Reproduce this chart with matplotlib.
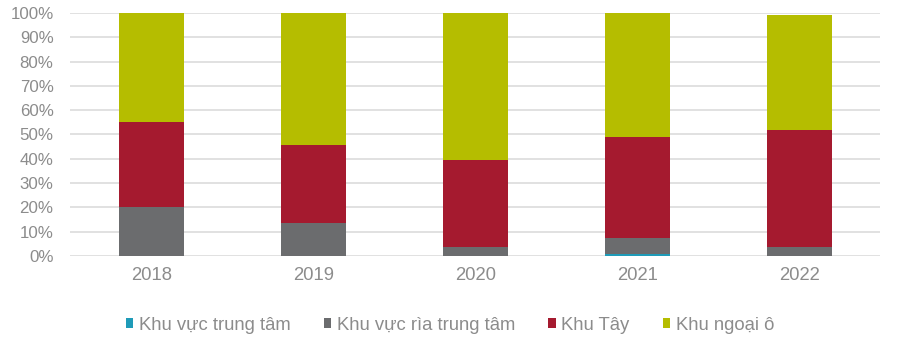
import matplotlib.pyplot as plt
import numpy as np

plt.rcParams["font.family"] = ["Liberation Sans", "DejaVu Sans"]

years = ["2018", "2019", "2020", "2021", "2022"]
series_names = ["Khu vực trung tâm", "Khu vực rìa trung tâm", "Khu Tây", "Khu ngoại ô"]
trung_tam = [0.0, 0.0, 0.0, 1.0, 0.0]
ria_trung_tam = [20.0, 13.6, 3.7, 6.4, 3.8]
khu_tay = [35.1, 32.1, 35.8, 41.6, 48.0]
ngoai_o = [44.9, 54.3, 60.5, 51.0, 47.4]

COLORS = ["#1f9bb8", "#6b6c6e", "#a51a2f", "#b5bd00"]
TEXT_COLOR = "#8c8c8c"
GRID_COLOR = "#dcdcdc"

fig = plt.figure(figsize=(9, 3.6), dpi=100)
ax = fig.add_axes([0.078, 0.289, 0.9, 0.675])

x = np.arange(len(years))
bottom = np.zeros(len(years))
handles = []
for vals, color, name in zip([trung_tam, ria_trung_tam, khu_tay, ngoai_o], COLORS, series_names):
    vals = np.array(vals)
    h = ax.bar(x, vals, width=0.4, bottom=bottom, color=color, label=name, zorder=3)
    handles.append(h)
    bottom += vals

ax.set_xlim(-0.5, len(years) - 0.5)
ax.set_ylim(0, 100)
ax.set_yticks(np.arange(0, 101, 10))
ax.set_yticklabels([f"{v}%" for v in range(0, 101, 10)])
ax.set_xticks(x)
ax.set_xticklabels(years)
ax.grid(axis="y", color=GRID_COLOR, linewidth=1.2, zorder=0)
ax.tick_params(axis="both", length=0, colors=TEXT_COLOR)
ax.tick_params(axis="x", pad=8, labelsize=13.3)
ax.tick_params(axis="y", pad=12, labelsize=12.2)
for spine in ax.spines.values():
    spine.set_visible(False)

fig.legend(handles=handles, labels=series_names, loc="center", bbox_to_anchor=(0.5, 0.097),
           ncol=4, frameon=False, fontsize=13.3, labelcolor=TEXT_COLOR,
           handlelength=0.4, handleheight=0.4, handletextpad=0.3, columnspacing=1.8)

fig.savefig("out.png", dpi=100, facecolor="white")
